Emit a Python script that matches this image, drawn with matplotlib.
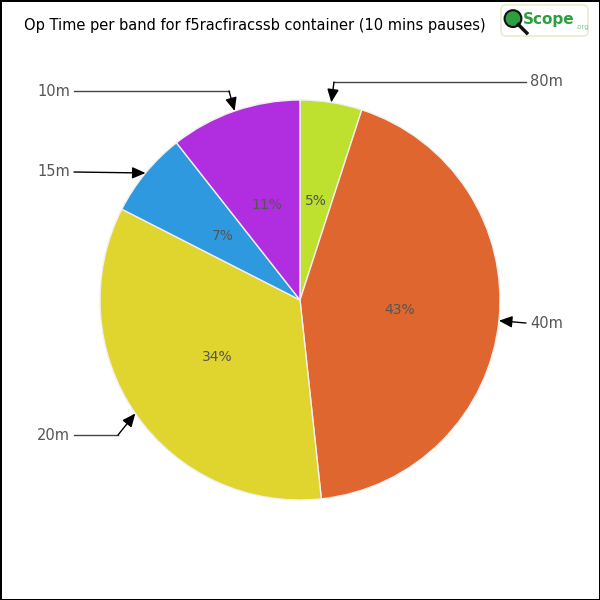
import matplotlib.pyplot as plt
import matplotlib.patches as mpatches
import numpy as np

# data
bands = ["80m", "40m", "20m", "15m", "10m"]
op_time = [5.0, 43.3, 34.2, 6.9, 10.6]
colors = ["#bee02e", "#e0662f", "#e0d42e", "#2f99e0", "#b02ee0"]

# label placement (text position, optional elbow) in axes data units
label_pos = {
    "80m": ((1.15, 1.09), (0.17, 1.09), "left"),
    "40m": ((1.15, -0.115), None, "left"),
    "20m": ((-1.15, -0.675), (-0.91, -0.675), "right"),
    "15m": ((-1.15, 0.64), None, "right"),
    "10m": ((-1.15, 1.045), (-0.355, 1.045), "right"),
}

fig = plt.figure(figsize=(6, 6), dpi=100)
fig.patch.set_edgecolor("black")
fig.patch.set_linewidth(2)
ax = fig.add_axes([0, 0, 1, 1])

wedges, texts, autotexts = ax.pie(
    op_time, colors=colors, startangle=90, counterclock=False, radius=1,
    autopct="%.0f%%", pctdistance=0.5,
    wedgeprops=dict(edgecolor="#f0f0f0", linewidth=1),
    textprops=dict(color="#555555", fontsize=10),
)
ax.set_xlim(-1.5, 1.5)
ax.set_ylim(-1.5, 1.5)
ax.set_aspect("equal")
ax.axis("off")

# arrows from labels to the middle of each wedge edge
for w, band in zip(wedges, bands):
    mid = np.deg2rad((w.theta1 + w.theta2) / 2)
    tip = (np.cos(mid), np.sin(mid))
    (tx, ty), elbow, ha = label_pos[band]
    ax.text(tx, ty, band, ha=ha, va="center", fontsize=10.5, color="#555555")
    start_x = tx - 0.02 if ha == "left" else tx + 0.02
    if elbow is not None:
        ax.plot([start_x, elbow[0]], [ty, elbow[1]], color="#444444", lw=1)
        src = elbow
    else:
        src = (start_x, ty)
    ax.annotate("", xy=tip, xytext=src,
                arrowprops=dict(arrowstyle="-|>,head_length=0.8,head_width=0.35",
                                color="black", lw=1, shrinkA=0, shrinkB=0))

# title
fig.text(0.04, 0.958, "Op Time per band for f5racfiracssb container (10 mins pauses)",
         fontsize=10.5, color="black", ha="left", va="center")

# logo
box = mpatches.FancyBboxPatch((0.835, 0.94), 0.145, 0.052,
                              boxstyle="round,pad=0,rounding_size=0.008",
                              transform=fig.transFigure, facecolor="white",
                              edgecolor="#e8e8c8", lw=1)
fig.patches.append(box)
fig.patches.append(mpatches.Circle((0.855, 0.969), 0.014, transform=fig.transFigure,
                                   facecolor="#2e9e40", edgecolor="#111111", lw=1.5))
fig.lines.append(plt.Line2D([0.864, 0.878], [0.959, 0.945], transform=fig.transFigure,
                            color="#111111", lw=2.5))
fig.text(0.871, 0.968, "Scope", fontsize=11, fontweight="bold", color="#2e9e40",
         ha="left", va="center", family="Liberation Sans Narrow")
fig.text(0.958, 0.955, ".org", fontsize=5, color="#8cc68c", ha="left", va="center")

plt.savefig("out.png", dpi=100)
